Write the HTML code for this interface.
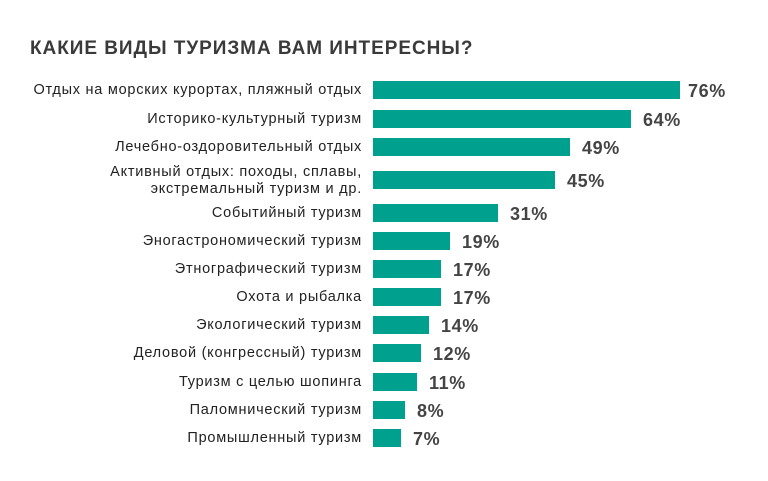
<!DOCTYPE html>
<html><head><meta charset="utf-8"><style>
body{margin:0;width:768px;height:481px;background:#fff;position:relative;overflow:hidden;font-family:"Liberation Sans","DejaVu Sans",sans-serif}
.t{position:absolute;left:30px;top:38px;font-size:19px;font-weight:bold;color:#3a3a3a;letter-spacing:0.95px}
.l{position:absolute;right:406px;font-size:14.5px;letter-spacing:0.75px;color:#222;text-align:right;line-height:17px;white-space:nowrap;margin-top:1px}
.b{position:absolute;left:373px;height:18px;background:#00a08e}
.v{position:absolute;font-size:18px;letter-spacing:0.6px;font-weight:bold;color:#444;line-height:18px}
</style></head><body>
<div class="t">КАКИЕ ВИДЫ ТУРИЗМА ВАМ ИНТЕРЕСНЫ?</div>
<div class="l" style="top:81px">Отдых на морских курортах, пляжный отдых</div><div class="b" style="top:81px;width:307px"></div><div class="v" style="top:82px;left:688px">76%</div>
<div class="l" style="top:110px">Историко-культурный туризм</div><div class="b" style="top:110px;width:258px"></div><div class="v" style="top:111px;left:643px">64%</div>
<div class="l" style="top:138px">Лечебно-оздоровительный отдых</div><div class="b" style="top:138px;width:197px"></div><div class="v" style="top:139px;left:582px">49%</div>
<div class="l" style="top:163px">Активный отдых: походы, сплавы,<br>экстремальный туризм и др.</div><div class="b" style="top:171px;width:182px"></div><div class="v" style="top:172px;left:567px">45%</div>
<div class="l" style="top:204px">Событийный туризм</div><div class="b" style="top:204px;width:125px"></div><div class="v" style="top:205px;left:510px">31%</div>
<div class="l" style="top:232px">Эногастрономический туризм</div><div class="b" style="top:232px;width:77px"></div><div class="v" style="top:233px;left:462px">19%</div>
<div class="l" style="top:260px">Этнографический туризм</div><div class="b" style="top:260px;width:68px"></div><div class="v" style="top:261px;left:453px">17%</div>
<div class="l" style="top:288px">Охота и рыбалка</div><div class="b" style="top:288px;width:68px"></div><div class="v" style="top:289px;left:453px">17%</div>
<div class="l" style="top:316px">Экологический туризм</div><div class="b" style="top:316px;width:56px"></div><div class="v" style="top:317px;left:441px">14%</div>
<div class="l" style="top:344px">Деловой (конгрессный) туризм</div><div class="b" style="top:344px;width:48px"></div><div class="v" style="top:345px;left:433px">12%</div>
<div class="l" style="top:373px">Туризм с целью шопинга</div><div class="b" style="top:373px;width:44px"></div><div class="v" style="top:374px;left:429px">11%</div>
<div class="l" style="top:401px">Паломнический туризм</div><div class="b" style="top:401px;width:32px"></div><div class="v" style="top:402px;left:417px">8%</div>
<div class="l" style="top:429px">Промышленный туризм</div><div class="b" style="top:429px;width:28px"></div><div class="v" style="top:430px;left:413px">7%</div>
</body></html>
